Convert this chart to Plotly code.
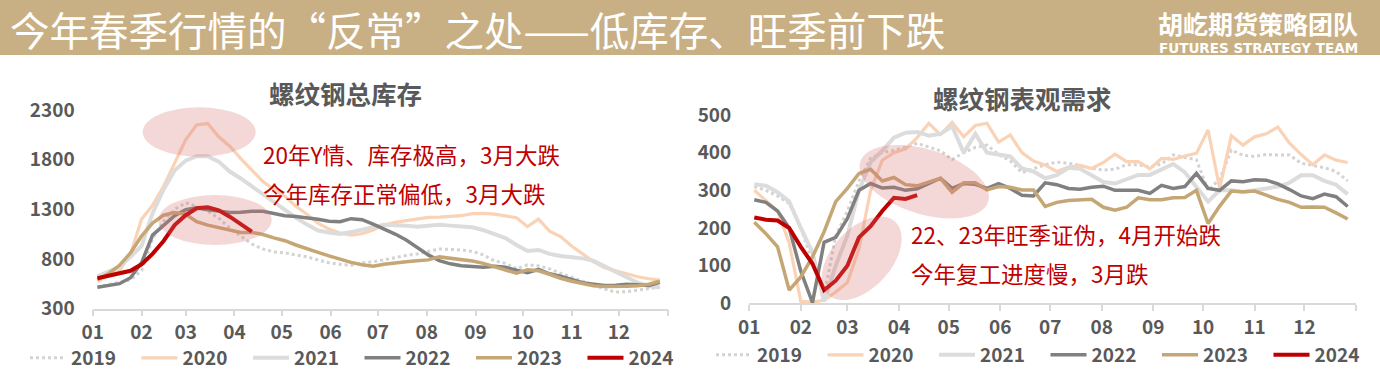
import numpy as np
import plotly.graph_objects as go

W, H = 1380, 386

# ---------------- data ----------------
week_day = [3, 10, 17, 24, 31, 38, 45, 52, 59, 66, 73, 80, 87, 94, 101, 108, 115, 122, 129, 136,
            143, 150, 157, 164, 171, 178, 185, 192, 199, 206, 213, 220, 227, 234, 241, 248, 255, 262,
            269, 276, 283, 290, 297, 304, 311, 318, 325, 332, 339, 346, 353, 360]
month_start = [0, 31, 59, 90, 120, 151, 181, 212, 243, 273, 304, 334, 365]
month_labels = ["01", "02", "03", "04", "05", "06", "07", "08", "09", "10", "11", "12", ""]
years = ["2019", "2020", "2021", "2022", "2023", "2024"]

# 螺纹钢总库存 (left)
inv_2019 = [515, 540, 565, 590, 680, 1000, 1180, 1300, 1365, 1330, 1280, 1210, 1110, 1030, 950, 900, 870, 860,
            840, 820, 790, 760, 745, 735, 760, 770, 790, 815, 835, 850, 875, 900, 895, 890, 875, 840, 780, 755,
            700, 740, 730, 700, 655, 615, 575, 530, 495, 465, 470, 485, 500, 515]
inv_2020 = [570, 635, 680, 850, 1200, 1340, 1530, 1760, 2000, 2150, 2165, 2030, 1935, 1810, 1700, 1580, 1500,
            1430, 1330, 1250, 1160, 1100, 1060, 1040, 1055, 1090, 1140, 1168, 1185, 1200, 1218, 1220, 1230, 1235,
            1255, 1258, 1250, 1235, 1215, 1125, 1200, 1080, 1025, 930, 845, 770, 710, 680, 655, 620, 600, 585]
inv_2021 = [625, 670, 720, 820, 930, 1260, 1500, 1690, 1790, 1835, 1835, 1780, 1680, 1610, 1530, 1455, 1370,
            1285, 1215, 1145, 1085, 1065, 1050, 1070, 1090, 1120, 1144, 1144, 1135, 1125, 1135, 1144, 1135, 1128,
            1118, 1090, 1050, 1010, 940, 880, 890, 850, 830, 820, 805, 780, 725, 680, 625, 560, 525, 515]
inv_2022 = [515, 530, 550, 610, 760, 1040, 1140, 1235, 1295, 1315, 1295, 1280, 1268, 1270, 1280, 1280, 1260,
            1235, 1228, 1218, 1200, 1180, 1175, 1205, 1195, 1150, 1100, 1050, 990, 910, 840, 782, 750, 730, 720,
            715, 725, 715, 685, 660, 695, 650, 625, 590, 560, 545, 532, 535, 545, 540, 532, 565]
inv_2023 = [590, 650, 735, 860, 1030, 1160, 1240, 1268, 1250, 1175, 1140, 1115, 1090, 1067, 1067, 1045, 1012,
            983, 940, 900, 866, 830, 795, 765, 740, 725, 745, 760, 770, 780, 790, 820, 808, 795, 778, 755, 720,
            690, 655, 690, 680, 645, 605, 575, 550, 530, 522, 521, 525, 530, 545, 575]
inv_2024 = [605, 630, 655, 680, 745, 850, 980, 1140, 1240, 1310, 1320, 1290, 1225, 1150, 1075]

# 螺纹钢表观需求 (right)
dem_2019 = [310, 300, 285, 265, 200, 110, 20, 180, 245, 325, 385, 400, 406, 415, 425, 415, 405, 382, 400, 414,
            420, 395, 378, 347, 358, 368, 375, 372, 366, 358, 354, 356, 368, 368, 362, 370, 394, 387, 381, 300,
            330, 407, 393, 390, 395, 394, 394, 372, 365, 360, 350, 325]
dem_2020 = [300, 272, 245, 160, 5, 3, 8, 30, 55, 145, 300, 380, 400, 410, 440, 478, 448, 480, 442, 472, 478,
            428, 447, 400, 378, 367, 350, 362, 366, 358, 374, 396, 376, 376, 357, 385, 382, 391, 398, 460, 305,
            445, 420, 442, 450, 468, 425, 395, 368, 394, 380, 374]
dem_2021 = [316, 312, 295, 270, 200, 135, 5, 100, 180, 300, 375, 405, 440, 453, 455, 445, 450, 470, 400, 450,
            400, 395, 390, 358, 350, 332, 340, 360, 357, 340, 322, 318, 330, 341, 341, 355, 370, 348, 310, 270,
            300, 300, 295, 301, 305, 310, 320, 340, 340, 325, 315, 290]
dem_2022 = [275, 268, 245, 200, 85, 2, 162, 175, 225, 300, 318, 306, 308, 300, 304, 318, 332, 305, 318, 316,
            305, 318, 305, 287, 285, 320, 315, 305, 303, 308, 311, 300, 300, 300, 292, 313, 305, 310, 345, 305,
            300, 325, 323, 328, 327, 317, 302, 285, 278, 290, 283, 257]
dem_2023 = [215, 185, 150, 35, 70, 123, 190, 270, 305, 345, 356, 325, 334, 315, 312, 322, 332, 295, 320, 320,
            301, 310, 308, 301, 301, 257, 268, 273, 275, 276, 255, 247, 255, 280, 275, 275, 280, 281, 300, 212,
            258, 298, 296, 298, 287, 276, 268, 255, 256, 255, 240, 224]
dem_2024 = [228, 222, 220, 200, 150, 105, 35, 60, 100, 175, 205, 245, 280, 277, 287]

inv_series = [inv_2019, inv_2020, inv_2021, inv_2022, inv_2023, inv_2024]
dem_series = [dem_2019, dem_2020, dem_2021, dem_2022, dem_2023, dem_2024]

# ---------------- styles ----------------
colors = ["#D3D3D3", "#FAD3B6", "#DCDCDC", "#808080", "#C5A675", "#C00000"]
widths = [3, 3.2, 4, 3.5, 3.5, 4]
dashes = ["dot", "solid", "solid", "solid", "solid", "solid"]
FONT = "Noto Sans CJK SC"
GREY = "#595959"


def px(x):
    return x / W


def py(y):
    return 1 - y / H


fig = go.Figure()
for i, yr in enumerate(years):
    vals = inv_series[i]
    fig.add_trace(go.Scatter(x=week_day[:len(vals)], y=vals, mode="lines", name=yr,
                             line=dict(color=colors[i], width=widths[i], dash=dashes[i]),
                             xaxis="x", yaxis="y", legend="legend", hoverinfo="skip"))
for i, yr in enumerate(years):
    vals = dem_series[i]
    fig.add_trace(go.Scatter(x=week_day[:len(vals)], y=vals, mode="lines", name=yr,
                             line=dict(color=colors[i], width=widths[i], dash=dashes[i]),
                             xaxis="x2", yaxis="y2", legend="legend2", hoverinfo="skip"))

tickfont = dict(family=FONT, size=19, color=GREY, weight="bold")
xcommon = dict(range=[0, 365], tickvals=month_start, ticktext=month_labels, ticks="outside",
               ticklen=6, tickcolor="#D9D9D9", tickwidth=1.5, showline=True, linecolor="#D9D9D9",
               linewidth=1.5, showgrid=False, zeroline=False, tickfont=tickfont, fixedrange=True,
               automargin=False)
ycommon = dict(showgrid=False, zeroline=False, showline=False, ticks="", tickfont=tickfont,
               ticklabelstandoff=17, fixedrange=True, automargin=False)

legfont = dict(family=FONT, size=19, color=GREY, weight="bold")
layout = dict(
    width=W, height=H, margin=dict(l=0, r=0, t=0, b=0, autoexpand=False),
    paper_bgcolor="white", plot_bgcolor="white",
    xaxis=dict(domain=[px(92.7), px(667.7)], anchor="y", **xcommon),
    yaxis=dict(domain=[py(308.5), py(110)], anchor="x", range=[300, 2300],
               tickvals=[300, 800, 1300, 1800, 2300], **ycommon),
    xaxis2=dict(domain=[px(749.3), px(1356)], anchor="y2", **xcommon),
    yaxis2=dict(domain=[py(303.3), py(115)], anchor="x2", range=[0, 500],
                tickvals=[0, 100, 200, 300, 400, 500], **ycommon),
    legend=dict(orientation="h", x=px(25), y=py(358), xanchor="left", yanchor="middle",
                font=legfont, entrywidth=60.5, entrywidthmode="pixels", itemwidth=36,
                bgcolor="rgba(0,0,0,0)", traceorder="normal"),
    legend2=dict(orientation="h", x=px(711), y=py(355), xanchor="left", yanchor="middle",
                 font=legfont, entrywidth=60.5, entrywidthmode="pixels", itemwidth=36,
                 bgcolor="rgba(0,0,0,0)", traceorder="normal"),
    showlegend=True,
)
fig.update_layout(**layout)


def ellipse_path(cx, cy, a, b, ang_deg, n=90):
    t = np.linspace(0, 2 * np.pi, n, endpoint=False)
    th = np.radians(ang_deg)
    xs = cx + a * np.cos(t) * np.cos(th) - b * np.sin(t) * np.sin(th)
    ys = cy + a * np.cos(t) * np.sin(th) + b * np.sin(t) * np.cos(th)
    pts = [f"{px(x):.5f},{py(y):.5f}" for x, y in zip(xs, ys)]
    return "M" + " L".join(pts) + " Z"


ell_fill = "rgba(215,110,110,0.28)"
shapes = [
    dict(type="rect", xref="paper", yref="paper", x0=0, x1=1, y0=py(55), y1=1,
         fillcolor="#C9B084", line=dict(width=0), layer="below"),
    dict(type="circle", xref="paper", yref="paper", x0=px(142.7), x1=px(255.7), y0=py(156.7), y1=py(107.3),
         fillcolor=ell_fill, line=dict(width=0), layer="above"),
    dict(type="circle", xref="paper", yref="paper", x0=px(158.3), x1=px(271.7), y0=py(245), y1=py(195),
         fillcolor=ell_fill, line=dict(width=0), layer="above"),
    dict(type="path", xref="paper", yref="paper", path=ellipse_path(924.2, 181.7, 67, 32.3, 17.3),
         fillcolor=ell_fill, line=dict(width=0), layer="above"),
    dict(type="path", xref="paper", yref="paper", path=ellipse_path(861.7, 258.3, 49.5, 29.7, -47.7),
         fillcolor=ell_fill, line=dict(width=0), layer="above"),
]
fig.update_layout(shapes=shapes)


def ann(text, x, y, size, color, xanchor="left", weight="normal", family=FONT):
    return dict(text=text, x=px(x), y=py(y), xref="paper", yref="paper", xanchor=xanchor,
                yanchor="middle", showarrow=False,
                font=dict(family=family, size=size, color=color, weight=weight))


RED = "#C00000"
annotations = [
    ann("今年春季行情的“反常”之处——低库存、旺季前下跌", 8, 28, 39.5, "white"),
    ann("胡屹期货策略团队", 1258, 23, 25, "white", xanchor="center", weight="bold"),
    ann("FUTURES STRATEGY TEAM", 1258, 48, 13.5, "white", xanchor="center", weight="bold",
        family="DejaVu Sans"),
    ann("螺纹钢总库存", 345, 93, 25.5, GREY, xanchor="center", weight="bold"),
    ann("螺纹钢表观需求", 1022, 97, 25.5, GREY, xanchor="center", weight="bold"),
    ann("20年Y情、库存极高，3月大跌", 261, 154, 22.5, RED),
    ann("今年库存正常偏低，3月大跌", 261, 193, 22.5, RED),
    ann("22、23年旺季证伪，4月开始跌", 909, 234, 22.5, RED),
    ann("今年复工进度慢，3月跌", 909, 273, 22.5, RED),
]
fig.update_layout(annotations=annotations)

fig.write_html("out.html", config={"displayModeBar": False},
               post_script="document.body.style.margin='0';document.body.style.overflow='hidden';")
